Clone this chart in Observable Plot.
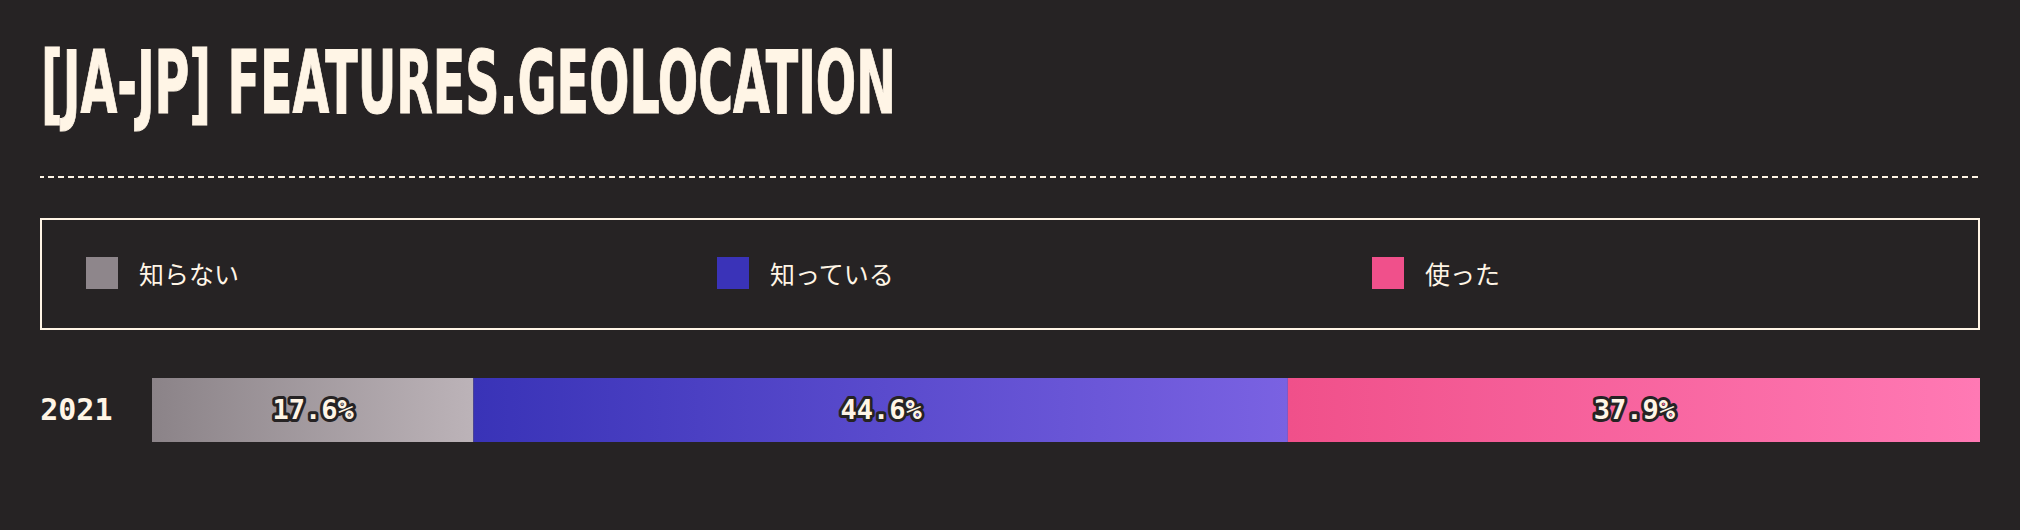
<!DOCTYPE html>
<html>
<head>
<meta charset="utf-8">
<script src="https://cdn.jsdelivr.net/npm/d3@7"></script>
<script src="https://cdn.jsdelivr.net/npm/@observablehq/plot@0.6"></script>
<style>
  html, body { margin: 0; padding: 0; background: #262324; width: 2020px; height: 530px; overflow: hidden; }
  #title {
    position: absolute; left: 41px; top: 40px; margin: 0;
    font-family: "DejaVu Sans Condensed", "Liberation Sans Narrow", sans-serif;
    font-weight: bold; font-size: 87px; line-height: 86px; color: #fff5e6;
    white-space: nowrap; transform-origin: left top; display: inline-block;
    -webkit-text-stroke: 1px #fff5e6;
  }
  #rule { position: absolute; left: 40px; top: 176px; width: 1940px; height: 0;
    border-top: 2px dashed #fff5e6; border-image: repeating-linear-gradient(90deg, #fff5e6 0 6px, transparent 6px 10px) 2; }
  #legend {
    position: absolute; left: 40px; top: 218px; width: 1940px; height: 112px;
    border: 2px solid #fff5e6; display: flex; align-items: center;
    padding: 0 0 2px 44px; box-sizing: border-box;
  }
  #legend .item { flex: 1 1 auto; display: flex; align-items: center; }
  #legend .sw { width: 32px; height: 32px; margin-right: 21px; flex: none; }
  #legend .lab { font-family: "Noto Sans CJK JP", sans-serif; font-size: 25px; color: #fff5e6; white-space: nowrap; }
  #chart { position: absolute; left: 0; top: 350px; }
</style>
</head>
<body>
<h1 id="title"></h1>
<div id="rule"></div>
<div id="legend"></div>
<div id="chart"></div>
<script>
const titleText = "[JA-JP] FEATURES.GEOLOCATION";
const years = ["2021"];
const answers = ["知らない", "知っている", "使った"];
const values = [17.6, 44.6, 37.9];
const baseColors = ["#8e868b", "#3a33b8", "#f0508b"];
const gradStops = [["#8b8388", "#bcb3b8"], ["#3933b7", "#7a62e2"], ["#f0508a", "#ff79b4"]];

const cream = "#fff5e6";
const bg = "#262324";

// Title, condensed to the reference width
const title = document.getElementById("title");
title.textContent = titleText;
const tw = title.getBoundingClientRect().width;
title.style.transform = `scaleX(${855 / tw})`;

// Legend
const legend = document.getElementById("legend");
answers.forEach((a, i) => {
  const item = document.createElement("div");
  item.className = "item";
  const sw = document.createElement("div");
  sw.className = "sw";
  sw.style.background = baseColors[i];
  const lab = document.createElement("span");
  lab.className = "lab";
  lab.textContent = a;
  item.appendChild(sw); item.appendChild(lab);
  legend.appendChild(item);
});

const data = answers.map((a, i) => ({year: years[0], answer: a, value: values[i]}));
const total = d3.sum(values);

const chart = Plot.plot({
  width: 2020,
  height: 120,
  marginTop: 28,
  marginBottom: 28,
  marginLeft: 152,
  marginRight: 40,
  style: {background: "transparent", color: cream},
  x: {domain: [0, total], axis: null},
  y: {domain: years, padding: 0, label: null},
  color: {domain: answers, range: answers.map((a, i) => `url(#grad${i})`)},
  marks: [
    Plot.barX(data, Plot.stackX({x: "value", y: "year", fill: "answer"})),
    Plot.axisY({tickSize: 0, tickPadding: 40, fontSize: 30, fontWeight: "bold",
      fontFamily: "DejaVu Sans Mono", label: null}),
    Plot.text(data, Plot.stackX({
      x: "value", y: "year",
      text: d => d.value.toFixed(1) + "%",
      fill: cream, stroke: bg, strokeWidth: 6, strokeLinejoin: "round",
      fontSize: 27, fontWeight: "bold", fontFamily: "DejaVu Sans Mono"
    }))
  ]
});

// gradient definitions
const ns = "http://www.w3.org/2000/svg";
const defs = document.createElementNS(ns, "defs");
gradStops.forEach((s, i) => {
  const g = document.createElementNS(ns, "linearGradient");
  g.setAttribute("id", `grad${i}`);
  g.setAttribute("x1", "0"); g.setAttribute("x2", "1");
  g.setAttribute("y1", "0"); g.setAttribute("y2", "0");
  s.forEach((c, j) => {
    const st = document.createElementNS(ns, "stop");
    st.setAttribute("offset", j === 0 ? "0" : "1");
    st.setAttribute("stop-color", c);
    g.appendChild(st);
  });
  defs.appendChild(g);
});
chart.insertBefore(defs, chart.firstChild);
document.getElementById("chart").appendChild(chart);
</script>
</body>
</html>
